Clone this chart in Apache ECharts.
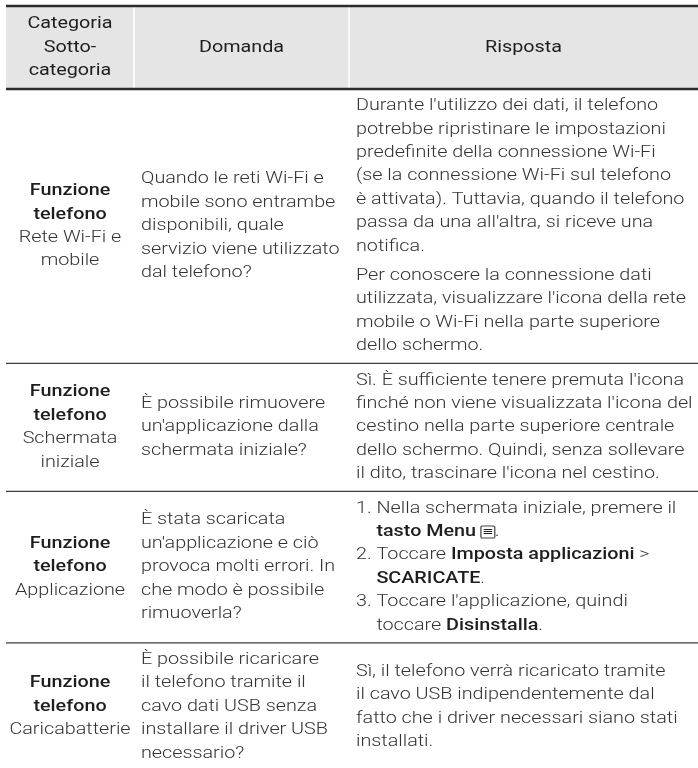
<!DOCTYPE html>
<html><head><meta charset="utf-8">
<script src="https://cdn.jsdelivr.net/npm/echarts@6/dist/echarts.min.js"></script>
<style>html,body{margin:0;padding:0;background:#fff}#c{width:698px;height:768px}</style>
</head><body><div id="c"></div>
<script>
// ---------- DATA ----------
const headers = ['Categoria\nSotto-\ncategoria', 'Domanda', 'Risposta'];
const categories = ['Funzione\ntelefono', 'Funzione\ntelefono', 'Funzione\ntelefono', 'Funzione\ntelefono'];
const subcategories = ['Rete Wi-Fi e\nmobile', 'Schermata\niniziale', 'Applicazione', 'Caricabatterie'];
const questions = [
  'Quando le reti Wi-Fi e\nmobile sono entrambe\ndisponibili, quale\nservizio viene utilizzato\ndal telefono?',
  "È possibile rimuovere\nun'applicazione dalla\nschermata iniziale?",
  "È stata scaricata\nun'applicazione e ciò\nprovoca molti errori. In\nche modo è possibile\nrimuoverla?",
  'È possibile ricaricare\nil telefono tramite il\ncavo dati USB senza\ninstallare il driver USB\nnecessario?'
];
// paragraphs per answer; {b|..} bold, {m|..} menu key, {i| } hanging indent
const answers = [
  ["Durante l'utilizzo dei dati, il telefono\npotrebbe ripristinare le impostazioni\npredefinite della connessione Wi-Fi\n(se la connessione Wi-Fi sul telefono\nè attivata). Tuttavia, quando il telefono\npassa da una all'altra, si riceve una\nnotifica.",
   "Per conoscere la connessione dati\nutilizzata, visualizzare l'icona della rete\nmobile o Wi-Fi nella parte superiore\ndello schermo."],
  ["Sì. È sufficiente tenere premuta l'icona\nfinché non viene visualizzata l'icona del\ncestino nella parte superiore centrale\ndello schermo. Quindi, senza sollevare\nil dito, trascinare l'icona nel cestino."],
  ["1. Nella schermata iniziale, premere il\n{i| }{b|tasto Menu} {m|≡}.\n2. Toccare {b|Imposta applicazioni} >\n{i| }{b|SCARICATE}.\n3. Toccare l'applicazione, quindi\n{i| }toccare {b|Disinstalla}."],
  ["Sì, il telefono verrà ricaricato tramite\nil cavo USB indipendentemente dal\nfatto che i driver necessari siano stati\ninstallati."]
];

// ---------- LAYOUT / STYLE ----------
const FONT = 'Roboto, "Liberation Sans", sans-serif';
const FS = 16, SX = 1.235, LH = 23.4, PAD = 11, PGAP = 6;
const X0 = 6, X1 = 134, X2 = 349, X3 = 698;
const TOP = 6, HEAD_BOTTOM = 89;
const TXT = '#333333', DARK = '#1e1e1e';

const rich = {
  r: { fontFamily: FONT, fontSize: FS, fontWeight: 300, fill: TXT, lineHeight: LH },
  b: { fontFamily: FONT, fontSize: FS, fontWeight: 500, fill: DARK, lineHeight: LH },
  i: { fontFamily: FONT, fontSize: FS, fontWeight: 300, fill: TXT, lineHeight: LH, width: 16.5 },
  m: { fontFamily: '"DejaVu Sans", sans-serif', fontSize: 11, fontWeight: 'normal', fill: DARK, lineHeight: 14,
       borderColor: '#444', borderWidth: 1, padding: [1, 1, 0, 1], borderRadius: 1 }
};
const nLines = s => s.split('\n').length;
function textEl(text, x, y, align, vAlign) {
  return {
    type: 'text', z: 3, x: x, y: y, scaleX: SX,
    style: { text, x: 0, y: 0, rich, textAlign: align, textVerticalAlign: vAlign,
             fontFamily: FONT, fontSize: FS, fontWeight: 300, fill: TXT, lineHeight: LH }
  };
}

const els = [];
// header
els.push({ type: 'rect', shape: { x: X0, y: TOP, width: X3 - X0, height: HEAD_BOTTOM - TOP }, style: { fill: '#e5e5e6' }, z: 0 });
[X1, X2].forEach(x => els.push({ type: 'line', shape: { x1: x, y1: TOP, x2: x, y2: HEAD_BOTTOM }, style: { stroke: '#ffffff', lineWidth: 1.5 }, z: 1 }));
els.push({ type: 'line', shape: { x1: X0, y1: TOP, x2: X3, y2: TOP }, style: { stroke: '#2b2b2b', lineWidth: 2.5 }, z: 2 });
els.push({ type: 'line', shape: { x1: X0, y1: HEAD_BOTTOM, x2: X3, y2: HEAD_BOTTOM }, style: { stroke: '#2b2b2b', lineWidth: 2.5 }, z: 2 });
const hx = [(X0 + X1) / 2, (X1 + X2) / 2, (X2 + X3) / 2];
headers.forEach((h, k) => {
  const el = textEl(h, hx[k], (TOP + HEAD_BOTTOM) / 2, 'center', 'middle');
  el.style.fontWeight = 400; el.style.fill = DARK;
  els.push(el);
});

// rows
let y = HEAD_BOTTOM;
categories.forEach((cat, r) => {
  const c1 = nLines(cat) + nLines(subcategories[r]);
  const c2 = nLines(questions[r]);
  const parH = answers[r].map(p => nLines(p) * LH);
  const c3 = parH.reduce((a, b) => a + b, 0) + (answers[r].length - 1) * PGAP;
  const h = Math.max(c1 * LH, c2 * LH, c3) + PAD;
  const mid = y + h / 2;
  const col1 = cat.split('\n').map(s => '{b|' + s + '}').join('\n') + '\n' +
               subcategories[r].split('\n').map(s => '{r|' + s + '}').join('\n');
  els.push(textEl(col1, hx[0], mid - c1 * LH / 2, 'center', 'top'));
  els.push(textEl(questions[r], X1 + 7, mid - c2 * LH / 2, 'left', 'top'));
  let py = mid - c3 / 2;
  answers[r].forEach((p, k) => {
    els.push(textEl(p, X2 + 7, py, 'left', 'top'));
    py += parH[k] + PGAP;
  });
  y += h;
  els.push({ type: 'line', shape: { x1: X0, y1: y, x2: X3, y2: y }, style: { stroke: '#3c3c3c', lineWidth: 1.3 }, z: 2 });
});

const chart = echarts.init(document.getElementById('c'), null, { renderer: 'canvas' });
chart.setOption({ animation: false, graphic: { elements: els } });
</script>
</body></html>
